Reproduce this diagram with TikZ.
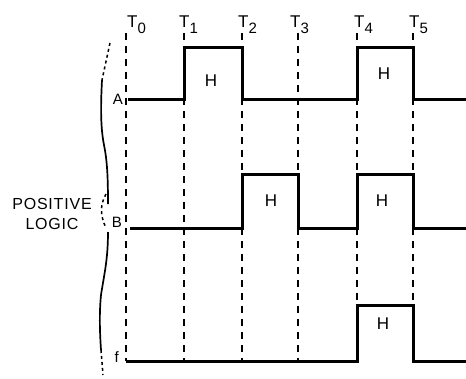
\documentclass[tikz,border=0pt]{standalone}
\usepackage{fontspec}
\setmainfont{Liberation Sans}
\newfontfamily\lblfont[LetterSpace=5]{Liberation Sans}
\begin{document}
\begin{tikzpicture}[x=1pt,y=-1pt,
  sig/.style={line width=3pt,line join=miter},
  tline/.style={line width=1.4pt,dash pattern=on 7pt off 6pt},
  brc/.style={line width=1.7pt},
  brcdot/.style={line width=1.5pt,dash pattern=on 3pt off 3pt},
  hlbl/.style={font=\fontsize{17}{19}\selectfont,inner sep=0pt},
  tlbl/.style={font=\fontsize{17}{19}\selectfont,inner sep=0pt,anchor=base west},
  slbl/.style={font=\fontsize{15}{17}\selectfont,inner sep=0pt,anchor=base east}]
\path[fill=white] (0,0) rectangle (466,378);
\useasboundingbox (0,0) rectangle (466,378);
% time lines
\foreach \n/\x in {0/126,1/184,2/242,3/298,4/357,5/413}{
  \coordinate (t\n top) at (\x,33);
  \coordinate (t\n bot) at (\x,361);
  \draw[tline] (t\n top) -- (t\n bot);
}
% time labels
\node[tlbl] (T0) at (127,27) {T\raisebox{-6pt}{\fontsize{15}{17}\selectfont 0}};
\node[tlbl] (T1) at (179,27) {T\raisebox{-6pt}{\fontsize{15}{17}\selectfont 1}};
\node[tlbl] (T2) at (238,27) {T\raisebox{-6pt}{\fontsize{15}{17}\selectfont 2}};
\node[tlbl] (T3) at (290,27) {T\raisebox{-6pt}{\fontsize{15}{17}\selectfont 3}};
\node[tlbl] (T4) at (354,27) {T\raisebox{-6pt}{\fontsize{15}{17}\selectfont 4}};
\node[tlbl] (T5) at (409,27) {T\raisebox{-6pt}{\fontsize{15}{17}\selectfont 5}};
% waveforms
\draw[sig] (128,99) -- (184,99) -- (184,47) -- (242,47) -- (242,99) -- (357,99)
  -- (357,47) -- (413,47) -- (413,99) -- (466,99);
\draw[sig] (130,228) -- (242,228) -- (242,174) -- (298,174) -- (298,228) -- (357,228)
  -- (357,174) -- (413,174) -- (413,228) -- (466,228);
\draw[sig] (126,361) -- (357,361) -- (357,305) -- (413,305) -- (413,361) -- (466,361);
% H labels
\node[hlbl] (h1) at (211,81) {H};
\node[hlbl] (h2) at (384,74) {H};
\node[hlbl] (h3) at (271,201) {H};
\node[hlbl] (h4) at (382,201) {H};
\node[hlbl] (h5) at (383,324) {H};
% signal names
\node[slbl] (A) at (123,104) {A};
\node[slbl] (B) at (122,227) {B};
\node[slbl] (f) at (119,362) {f};
% positive logic
\node[font=\lblfont\fontsize{16}{20}\selectfont,align=center,inner sep=0pt] (pl) at (52,214) {POSITIVE\\LOGIC};
% brace
\draw[brcdot] (110,43) -- (102,80);
\draw[brc] (102,80) .. controls (101,100) and (100,125) .. (104,145)
  .. controls (107,160) and (108,175) .. (108,204);
\draw[brcdot] (106,194) .. controls (100,205) and (100,215) .. (106,228);
\draw[brc] (108,232) .. controls (108,260) and (104,275) .. (101,295)
  .. controls (99,315) and (100,335) .. (101,350);
\draw[brcdot] (101,350) -- (103,375);
\end{tikzpicture}
\end{document}
